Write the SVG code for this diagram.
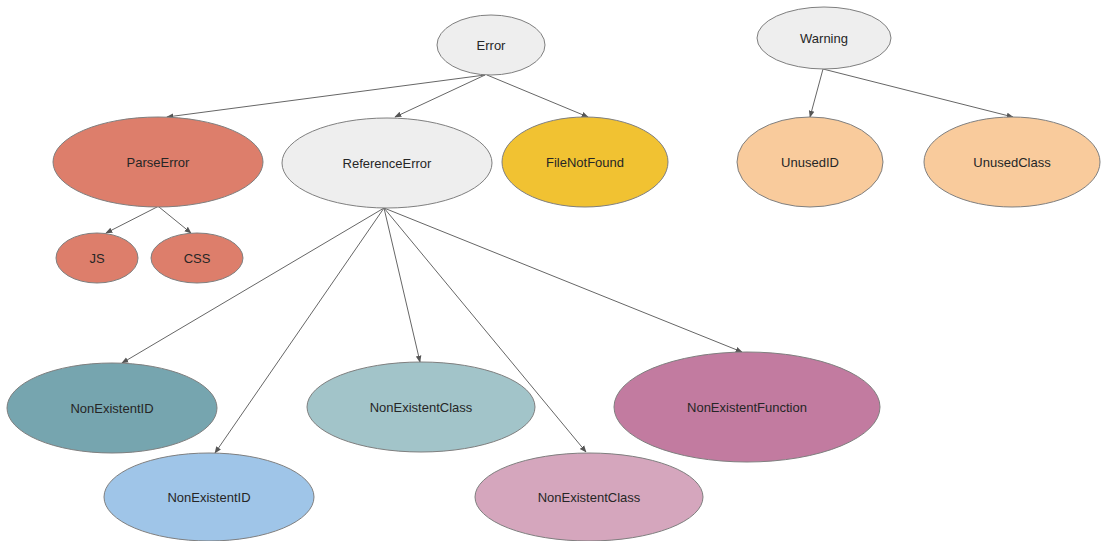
<svg xmlns="http://www.w3.org/2000/svg" width="1102" height="541" viewBox="0 0 1102 541">
<style>
.n{stroke:#7f7f7f;stroke-width:1}
.t{font-family:"Liberation Sans",Arial,sans-serif;font-size:13px;fill:#262626;text-anchor:middle;dominant-baseline:central}
.e{stroke:#666;stroke-width:1;fill:none;marker-end:url(#a)}
</style>
<defs>
<marker id="a" viewBox="0 0 10 10" refX="9" refY="5" markerWidth="7" markerHeight="7" orient="auto" markerUnits="userSpaceOnUse">
<path d="M0,1 L10,5 L0,9 z" fill="#555"/>
</marker>
</defs>
<rect width="1102" height="541" fill="#fff"/>
<g id="connectors">
<line class="e" x1="485" y1="75" x2="167" y2="117"/>
<line class="e" x1="485" y1="75" x2="395" y2="117"/>
<line class="e" x1="487" y1="75" x2="588" y2="117"/>
<line class="e" x1="823" y1="69" x2="810" y2="117"/>
<line class="e" x1="823" y1="69" x2="1013" y2="117"/>
<line class="e" x1="157" y1="207" x2="106" y2="233"/>
<line class="e" x1="159" y1="207" x2="191" y2="233"/>
<line class="e" x1="384" y1="208" x2="122" y2="363"/>
<line class="e" x1="384" y1="208" x2="215" y2="453"/>
<line class="e" x1="384" y1="208" x2="420" y2="362"/>
<line class="e" x1="384" y1="208" x2="586" y2="452"/>
<line class="e" x1="384" y1="208" x2="742" y2="352"/>
</g>
<g id="Error"><ellipse class="n" cx="491" cy="45" rx="54" ry="30" fill="#eeeeee"/><text class="t" x="491" y="45">Error</text></g>
<g id="Warning"><ellipse class="n" cx="824" cy="38" rx="67" ry="31" fill="#eeeeee"/><text class="t" x="824" y="38">Warning</text></g>
<g id="ParseError"><ellipse class="n" cx="158" cy="162" rx="105" ry="45" fill="#dd7e6b"/><text class="t" x="158" y="162">ParseError</text></g>
<g id="ReferenceError"><ellipse class="n" cx="387" cy="163" rx="105" ry="45" fill="#eeeeee"/><text class="t" x="387" y="163">ReferenceError</text></g>
<g id="FileNotFound"><ellipse class="n" cx="585" cy="162" rx="83" ry="45" fill="#f1c232"/><text class="t" x="585" y="162">FileNotFound</text></g>
<g id="UnusedID"><ellipse class="n" cx="810" cy="162" rx="73" ry="45" fill="#f9cb9c"/><text class="t" x="810" y="162">UnusedID</text></g>
<g id="UnusedClass"><ellipse class="n" cx="1012" cy="162" rx="88" ry="45" fill="#f9cb9c"/><text class="t" x="1012" y="162">UnusedClass</text></g>
<g id="JS"><ellipse class="n" cx="97" cy="258" rx="41" ry="25" fill="#dd7e6b"/><text class="t" x="97" y="258">JS</text></g>
<g id="CSS"><ellipse class="n" cx="197" cy="258" rx="46" ry="25" fill="#dd7e6b"/><text class="t" x="197" y="258">CSS</text></g>
<g id="NonExistentID1"><ellipse class="n" cx="112" cy="408" rx="105" ry="45" fill="#76a5af"/><text class="t" x="112" y="408">NonExistentID</text></g>
<g id="NonExistentID2"><ellipse class="n" cx="209" cy="497" rx="105" ry="44" fill="#9fc5e8"/><text class="t" x="209" y="497">NonExistentID</text></g>
<g id="NonExistentClass1"><ellipse class="n" cx="421" cy="407" rx="114" ry="45" fill="#a2c4c9"/><text class="t" x="421" y="407">NonExistentClass</text></g>
<g id="NonExistentClass2"><ellipse class="n" cx="589" cy="497" rx="114" ry="44" fill="#d5a6bd"/><text class="t" x="589" y="497">NonExistentClass</text></g>
<g id="NonExistentFunction"><ellipse class="n" cx="747" cy="407" rx="133" ry="55" fill="#c27ba0"/><text class="t" x="747" y="407">NonExistentFunction</text></g>
</svg>
